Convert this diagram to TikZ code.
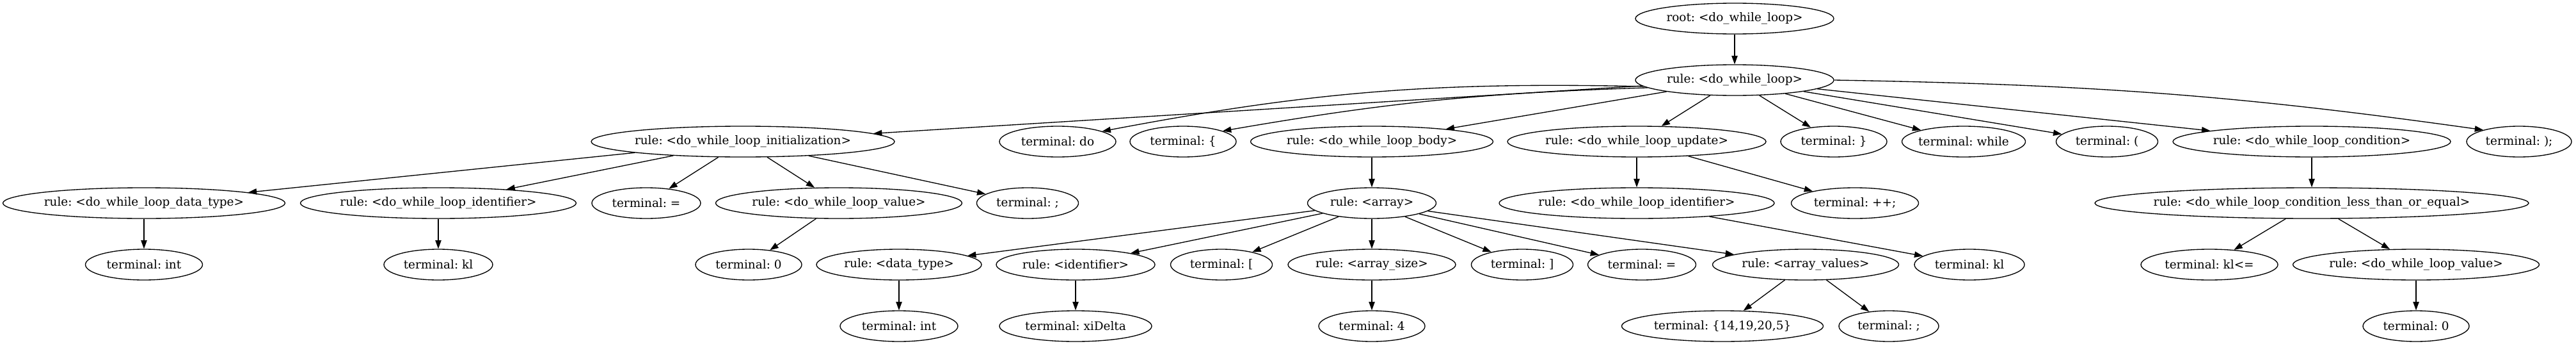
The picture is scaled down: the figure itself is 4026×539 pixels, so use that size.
\documentclass[tikz,border=0pt]{standalone}
\usepackage{fontspec}
\setmainfont{DejaVu Serif}
\usetikzlibrary{shapes.geometric,arrows.meta}
\newcommand{\mb}[1]{\makebox[0pt]{#1}}
\frenchspacing
\newlength\calw
\settowidth\calw{\fontsize{14pt}{16pt}\selectfont rule: <do\_while\_loop\_condition\_less\_than\_or\_equal>}
\pgfmathsetmacro\labfs{14*371/\calw}
\begin{document}
\begin{tikzpicture}[x=0.75pt,y=-0.75pt,
  nd/.style={ellipse,draw,line width=1pt,inner sep=0pt,minimum height=36pt,minimum width=#1*0.75pt,font=\fontsize{\labfs pt}{\labfs pt}\selectfont},
  ed/.style={-{Triangle[length=10pt,width=7pt]},line width=1pt}]
\useasboundingbox[fill=white] (0,0) rectangle (4026,539);
% row 0
\node[nd=310] (root) at (2711,29) {\mb{root: <do\_while\_loop>}};
% row 1
\node[nd=310] (loop) at (2711,125) {\mb{rule: <do\_while\_loop>}};
% row 2
\node[nd=474] (init) at (1161,221) {\mb{rule: <do\_while\_loop\_initialization>}};
\node[nd=182] (do) at (1653,221) {\mb{terminal: do}};
\node[nd=166] (lb) at (1849,221) {\mb{terminal: \{}};
\node[nd=379] (body) at (2144,221) {\mb{rule: <do\_while\_loop\_body>}};
\node[nd=404] (update) at (2558,221) {\mb{rule: <do\_while\_loop\_update>}};
\node[nd=166] (rb) at (2866,221) {\mb{terminal: \}}};
\node[nd=193] (while) at (3069,221) {\mb{terminal: while}};
\node[nd=159] (lp) at (3293,221) {\mb{terminal: (}};
\node[nd=434] (cond) at (3613,221) {\mb{rule: <do\_while\_loop\_condition>}};
\node[nd=164] (rp) at (3937,221) {\mb{terminal: );}};
% row 3
\node[nd=441] (dtype) at (225,317) {\mb{rule: <do\_while\_loop\_data\_type>}};
\node[nd=431] (ident) at (685,317) {\mb{rule: <do\_while\_loop\_identifier>}};
\node[nd=170] (eqa) at (1010,317) {\mb{terminal: =}};
\node[nd=385] (vala) at (1311,317) {\mb{rule: <do\_while\_loop\_value>}};
\node[nd=159] (semia) at (1606,317) {\mb{terminal: ;}};
\node[nd=201] (array) at (2144,317) {\mb{rule: <array>}};
\node[nd=430] (identb) at (2558,317) {\mb{rule: <do\_while\_loop\_identifier>}};
\node[nd=199] (pp) at (2899,317) {\mb{terminal: ++;}};
\node[nd=678] (lte) at (3613,317) {\mb{rule: <do\_while\_loop\_condition\_less\_than\_or\_equal>}};
% row 4
\node[nd=183] (inta) at (225,413) {\mb{terminal: int}};
\node[nd=170] (kla) at (685,413) {\mb{terminal: kl}};
\node[nd=166] (zeroa) at (1170,413) {\mb{terminal: 0}};
\node[nd=258] (dtb) at (1405,413) {\mb{rule: <data\_type>}};
\node[nd=248] (idb) at (1681,413) {\mb{rule: <identifier>}};
\node[nd=159] (lsb) at (1909,413) {\mb{terminal: [}};
\node[nd=262] (asize) at (2144,413) {\mb{rule: <array\_size>}};
\node[nd=159] (rsb) at (2379,413) {\mb{terminal: ]}};
\node[nd=169] (eqb) at (2566,413) {\mb{terminal: =}};
\node[nd=291] (avals) at (2822,413) {\mb{rule: <array\_values>}};
\node[nd=172] (klb) at (3078,413) {\mb{terminal: kl}};
\node[nd=214] (kle) at (3453,413) {\mb{terminal: kl<=}};
\node[nd=385] (valb) at (3776,413) {\mb{rule: <do\_while\_loop\_value>}};
% row 5
\node[nd=184] (intb) at (1405,509) {\mb{terminal: int}};
\node[nd=238] (xi) at (1681,509) {\mb{terminal: xiDelta}};
\node[nd=166] (four) at (2144,509) {\mb{terminal: 4}};
\node[nd=315] (list) at (2692,509) {\mb{terminal: \{14,19,20,5\}}};
\node[nd=156] (semib) at (2952,509) {\mb{terminal: ;}};
\node[nd=166] (zerob) at (3776,509) {\mb{terminal: 0}};
% edges
\draw[ed] (root) -- (loop);
\draw[ed] (loop) -- (init);
\draw[ed] (loop.184) to[bend right=6] (do.13);
\draw[ed] (loop.185) to[bend right=4] (lb.15);
\foreach \c in {body,update,rb,while,lp,cond} {\draw[ed] (loop) -- (\c);}
\draw[ed] (loop.east) to[out=-1,in=172] (rp.162);
\foreach \c in {dtype,ident,eqa,vala,semia} {\draw[ed] (init) -- (\c);}
\draw[ed] (dtype) -- (inta);
\draw[ed] (ident) -- (kla);
\draw[ed] (vala) -- (zeroa);
\draw[ed] (body) -- (array);
\foreach \c in {dtb,idb,lsb,asize,rsb,eqb,avals} {\draw[ed] (array) -- (\c);}
\draw[ed] (dtb) -- (intb);
\draw[ed] (idb) -- (xi);
\draw[ed] (asize) -- (four);
\draw[ed] (avals) -- (list);
\draw[ed] (avals) -- (semib);
\draw[ed] (update) -- (identb);
\draw[ed] (update) -- (pp);
\draw[ed] (identb) -- (klb);
\draw[ed] (cond) -- (lte);
\draw[ed] (lte) -- (kle);
\draw[ed] (lte) -- (valb);
\draw[ed] (valb) -- (zerob);
\end{tikzpicture}
\end{document}
